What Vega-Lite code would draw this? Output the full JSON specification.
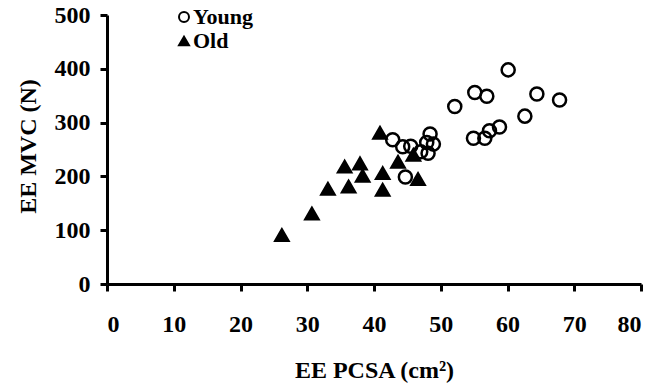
{
  "$schema": "https://vega.github.io/schema/vega-lite/v6.json",
  "width": 534,
  "height": 269,
  "autosize": {"type": "none"},
  "padding": {"left": 107, "top": 15, "right": 26, "bottom": 102},
  "background": "white",
  "config": {
    "view": {"stroke": null},
    "font": "Liberation Serif",
    "axis": {
      "grid": false,
      "domainColor": "black",
      "domainWidth": 3,
      "tickColor": "black",
      "tickWidth": 3,
      "tickSize": 7,
      "labelFont": "Liberation Serif",
      "labelFontWeight": "bold",
      "labelFontSize": 24,
      "labelColor": "black",
      "titleFont": "Liberation Serif",
      "titleFontWeight": "bold",
      "titleFontSize": 24,
      "titleColor": "black"
    },
    "legend": {
      "orient": "none",
      "legendX": 66,
      "legendY": -9,
      "labelFont": "Liberation Serif",
      "labelFontWeight": "bold",
      "labelFontSize": 22,
      "labelColor": "black",
      "symbolSize": 100,
      "symbolStrokeWidth": 2,
      "labelOffset": -2,
      "rowPadding": 2,
      "padding": 0
    }
  },
  "data": {
    "values": [
      {"group": "Young", "pcsa": 60.1, "mvc": 398},
      {"group": "Young", "pcsa": 55.1, "mvc": 356},
      {"group": "Young", "pcsa": 56.9, "mvc": 349},
      {"group": "Young", "pcsa": 52.1, "mvc": 330},
      {"group": "Young", "pcsa": 64.4, "mvc": 353},
      {"group": "Young", "pcsa": 67.8, "mvc": 342},
      {"group": "Young", "pcsa": 62.6, "mvc": 312},
      {"group": "Young", "pcsa": 58.8, "mvc": 292},
      {"group": "Young", "pcsa": 57.3, "mvc": 285},
      {"group": "Young", "pcsa": 54.9, "mvc": 271},
      {"group": "Young", "pcsa": 56.6, "mvc": 271},
      {"group": "Young", "pcsa": 42.8, "mvc": 268},
      {"group": "Young", "pcsa": 44.3, "mvc": 255},
      {"group": "Young", "pcsa": 45.5, "mvc": 256},
      {"group": "Young", "pcsa": 48.4, "mvc": 279},
      {"group": "Young", "pcsa": 47.9, "mvc": 263},
      {"group": "Young", "pcsa": 48.9, "mvc": 260},
      {"group": "Young", "pcsa": 48.1, "mvc": 243},
      {"group": "Young", "pcsa": 47.0, "mvc": 246},
      {"group": "Young", "pcsa": 44.7, "mvc": 199},
      {"group": "Old", "pcsa": 26.2, "mvc": 91},
      {"group": "Old", "pcsa": 30.7, "mvc": 131},
      {"group": "Old", "pcsa": 33.1, "mvc": 177},
      {"group": "Old", "pcsa": 35.6, "mvc": 218},
      {"group": "Old", "pcsa": 36.2, "mvc": 181},
      {"group": "Old", "pcsa": 37.9, "mvc": 224},
      {"group": "Old", "pcsa": 38.3, "mvc": 201},
      {"group": "Old", "pcsa": 40.9, "mvc": 281},
      {"group": "Old", "pcsa": 41.3, "mvc": 206},
      {"group": "Old", "pcsa": 41.3, "mvc": 175},
      {"group": "Old", "pcsa": 43.6, "mvc": 227},
      {"group": "Old", "pcsa": 45.9, "mvc": 240},
      {"group": "Old", "pcsa": 46.6, "mvc": 195}
    ]
  },
  "mark": {"type": "point", "filled": true, "strokeWidth": 2.5, "opacity": 1, "size": 170},
  "encoding": {
    "x": {
      "field": "pcsa", "type": "quantitative",
      "scale": {"domain": [0, 80], "nice": false, "zero": true},
      "axis": {"values": [0, 10, 20, 30, 40, 50, 60, 70, 80], "labelPadding": 21, "title": "EE PCSA (cm²)", "titleY": 93, "titleBaseline": "alphabetic"}
    },
    "y": {
      "field": "mvc", "type": "quantitative",
      "scale": {"domain": [0, 500], "nice": false},
      "axis": {"values": [0, 100, 200, 300, 400, 500], "labelPadding": 10, "title": "EE MVC (N)", "titleX": -79, "titleY": 131, "titleBaseline": "middle", "titleAlign": "center", "titleAngle": -90}
    },
    "shape": {
      "field": "group", "type": "nominal",
      "scale": {"domain": ["Young", "Old"], "range": ["circle", "triangle-up"]},
      "legend": {"title": null}
    },
    "fill": {
      "field": "group", "type": "nominal",
      "scale": {"domain": ["Young", "Old"], "range": ["transparent", "black"]},
      "legend": {"title": null}
    },
    "stroke": {
      "field": "group", "type": "nominal",
      "scale": {"domain": ["Young", "Old"], "range": ["black", "black"]},
      "legend": {"title": null}
    }
  }
}
